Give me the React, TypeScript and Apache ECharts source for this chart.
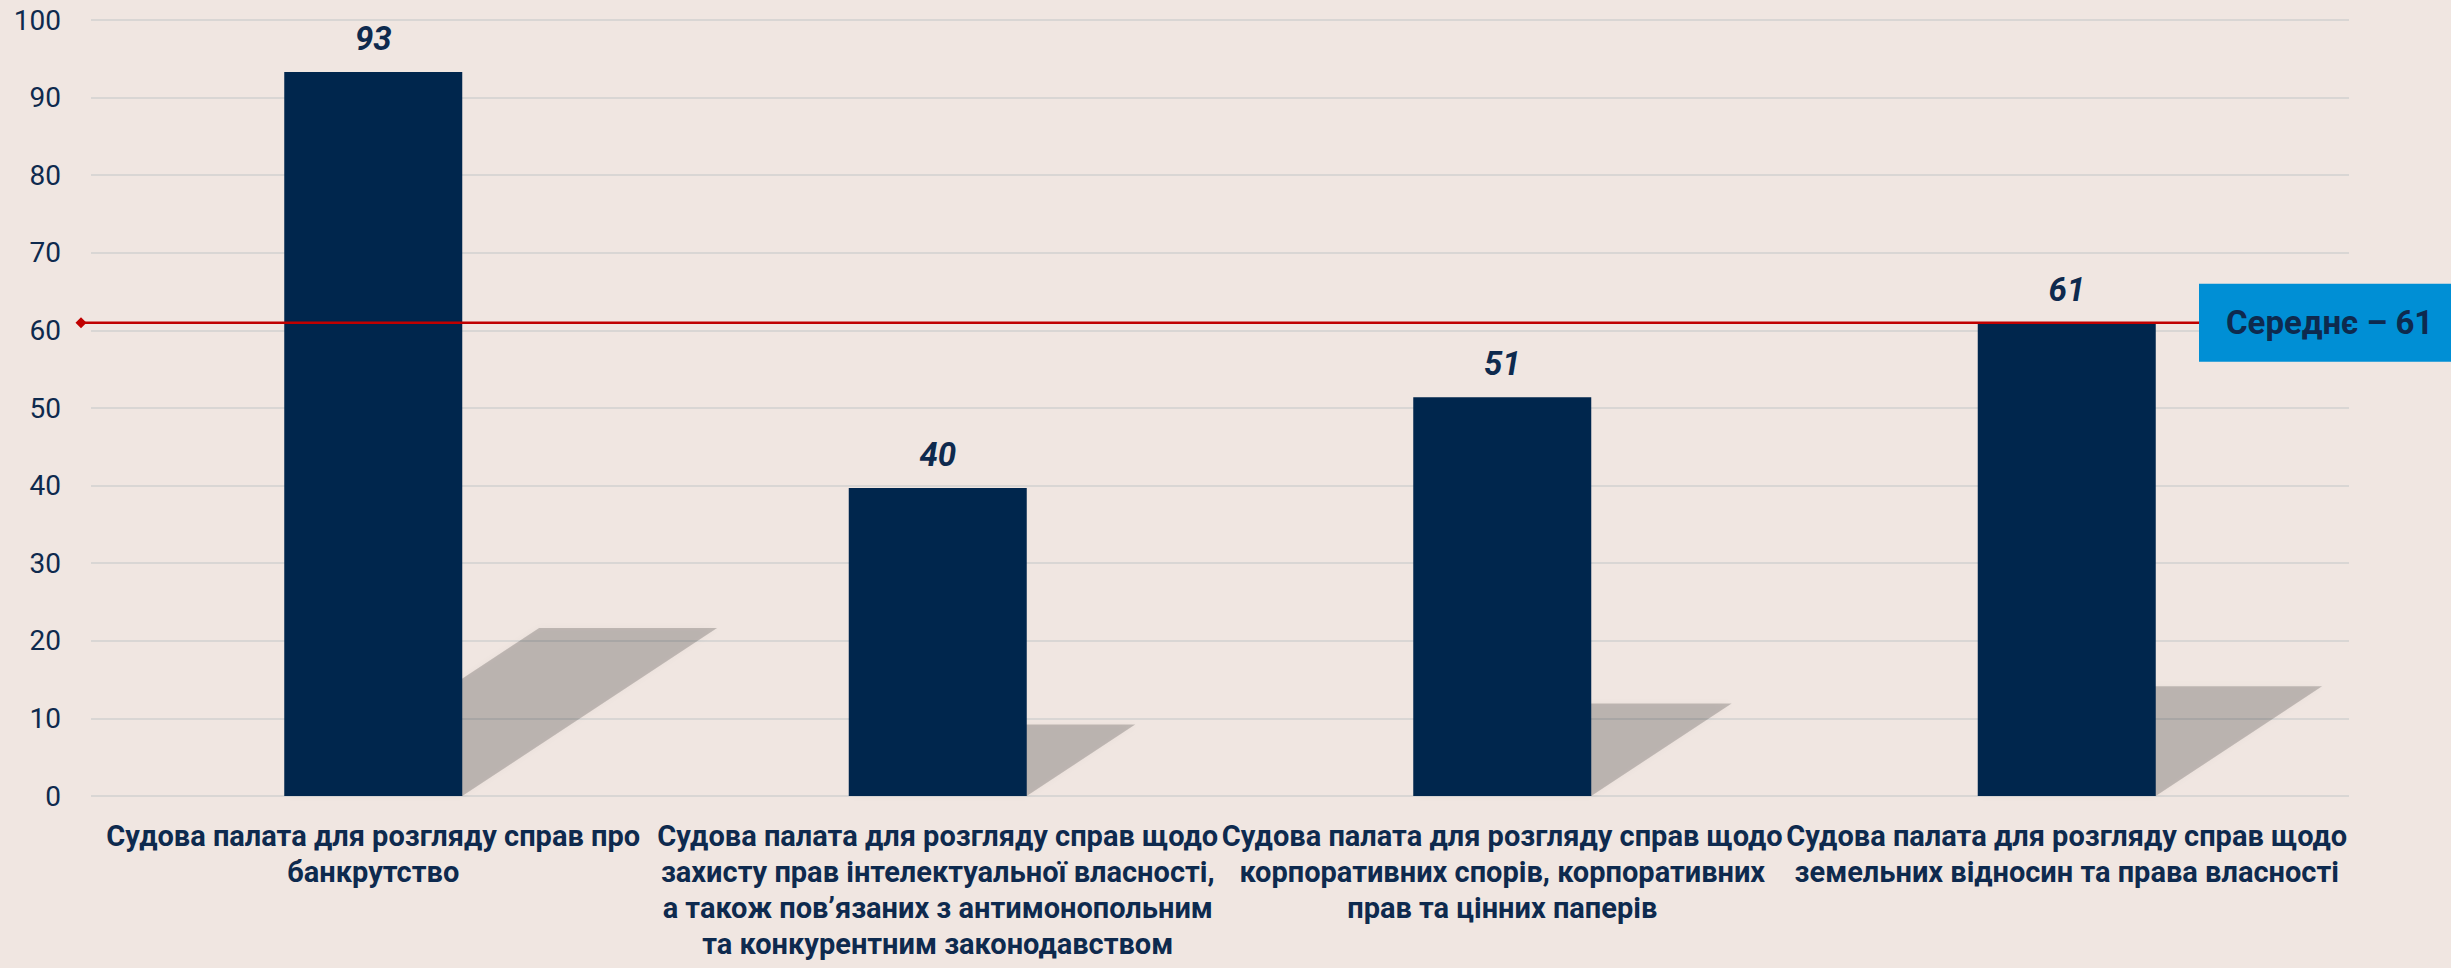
import React, { useEffect, useRef } from "react";
import * as echarts from "echarts";

const categories = [
  "Судова палата для розгляду справ про\nбанкрутство",
  "Судова палата для розгляду справ щодо\nзахисту прав інтелектуальної власності,\nа також пов’язаних з антимонопольним\nта конкурентним законодавством",
  "Судова палата для розгляду справ щодо\nкорпоративних спорів, корпоративних\nправ та цінних паперів",
  "Судова палата для розгляду справ щодо\nземельних відносин та права власності",
];
const values = [93.3, 39.7, 51.4, 60.9];
const averageValue = 61;
const averageLabel = "Середнє – 61";
const yMin = 0;
const yMax = 100;
const yInterval = 10;

const FONT = "Roboto, 'Noto Sans', sans-serif";
const NAVY = "#0E2A4E";
const BAR = "#00264D";
const BG = "#F0E6E1";
const BAR_WIDTH = 178;

export default function App() {
  const ref = useRef<HTMLDivElement>(null);
  useEffect(() => {
    if (!ref.current) return;
    const chart = echarts.init(ref.current, undefined, { renderer: "svg" });
    const option: any = {
      animation: false,
      backgroundColor: BG,
      textStyle: { fontFamily: FONT },
      grid: [
        { left: 91, right: 102, top: 20, bottom: 172 },
        { left: 81, right: 252, top: 20, bottom: 172 },
      ],
      xAxis: [
        {
          type: "category",
          gridIndex: 0,
          data: categories,
          axisLine: { show: false },
          axisTick: { show: false },
          axisLabel: {
            interval: 0,
            color: NAVY,
            fontFamily: FONT,
            fontWeight: "bold",
            fontSize: 29,
            lineHeight: 36,
            margin: 22,
          },
        },
        { type: "value", gridIndex: 1, min: 0, max: 1, show: false },
      ],
      yAxis: [
        {
          type: "value",
          gridIndex: 0,
          min: yMin,
          max: yMax,
          interval: yInterval,
          axisLine: { show: false },
          axisTick: { show: false },
          axisLabel: { color: NAVY, fontFamily: FONT, fontSize: 28, margin: 30 },
          splitLine: { lineStyle: { color: "#D9D6D4", width: 2 } },
        },
        { type: "value", gridIndex: 1, min: yMin, max: yMax, show: false },
      ],
      series: [
        {
          type: "custom",
          xAxisIndex: 0,
          yAxisIndex: 0,
          z: 1,
          clip: false,
          data: values.map((v, i) => [i, v]),
          renderItem: (params: any, api: any) => {
            const idx = api.value(0);
            const v = api.value(1);
            const base = api.coord([idx, 0]);
            const top = api.coord([idx, v]);
            const h = base[1] - top[1];
            const hw = BAR_WIDTH / 2;
            const dx = h * 0.352;
            const dy = h * 0.232;
            return {
              type: "polygon",
              shape: {
                points: [
                  [base[0] - hw, base[1]],
                  [base[0] + hw, base[1]],
                  [base[0] + hw + dx, base[1] - dy],
                  [base[0] - hw + dx, base[1] - dy],
                ],
              },
              style: {
                fill: "rgba(0,0,0,0.2)",
                shadowBlur: 6,
                shadowColor: "rgba(0,0,0,0.15)",
              },
            };
          },
        },
        {
          type: "bar",
          xAxisIndex: 0,
          yAxisIndex: 0,
          z: 3,
          data: values,
          barWidth: BAR_WIDTH,
          itemStyle: { color: BAR },
          label: {
            show: true,
            position: "top",
            distance: 17,
            formatter: (p: any) => String(Math.round(p.value)),
            color: NAVY,
            fontFamily: FONT,
            fontStyle: "italic",
            fontWeight: "bold",
            fontSize: 33,
          },
        },
        {
          type: "line",
          xAxisIndex: 1,
          yAxisIndex: 1,
          z: 5,
          data: [
            { value: [0, averageValue], symbol: "diamond", symbolSize: 11 },
            { value: [1, averageValue], symbol: "none" },
          ],
          showAllSymbol: true,
          itemStyle: { color: "#C00000" },
          lineStyle: { color: "#C00000", width: 2.5 },
          endLabel: {
            show: true,
            formatter: averageLabel,
            distance: 0,
            backgroundColor: "#008FD5",
            color: NAVY,
            fontFamily: FONT,
            fontWeight: "bold",
            fontSize: 33,
            lineHeight: 38,
            width: 225,
            align: "left",
            padding: [20, 0, 20, 27],
          },
        },
      ],
    };
    chart.setOption(option);
    return () => chart.dispose();
  }, []);
  return (
    <div
      ref={ref}
      style={{ position: "fixed", left: 0, top: 0, width: 2451, height: 968 }}
    />
  );
}
